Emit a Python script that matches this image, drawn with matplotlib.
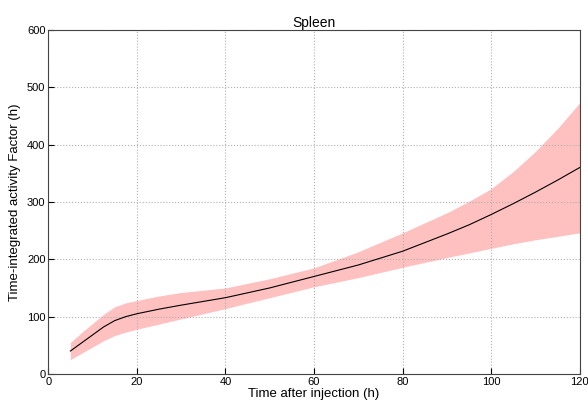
import numpy as np
import matplotlib.pyplot as plt

plt.rcParams['font.family'] = ['Liberation Sans', 'DejaVu Sans']

# Valores
t = [5, 7.5, 10, 12.5, 15, 17.5, 20, 25, 30, 40, 50, 60, 70, 80, 90, 95, 100, 105, 110, 115, 120]
media = [40, 54, 68, 82, 93, 100, 105, 113, 120, 133, 150, 170, 190, 214, 244, 260, 278, 297, 317, 338, 360]
superior = [55, 72, 88, 104, 117, 124, 128, 136, 142, 150, 166, 185, 213, 246, 281, 301, 323, 353, 388, 428, 473]
inferior = [25, 36, 47, 58, 67, 73, 78, 87, 96, 114, 133, 152, 168, 186, 203, 211, 219, 227, 234, 240, 246]

fig = plt.figure(figsize=(5.88, 4.03), dpi=100)
ax = fig.add_axes([0.082, 0.072, 0.904, 0.854])

ax.fill_between(t, inferior, superior, color='#ffc0c0', linewidth=0)
ax.plot(t, media, color='black', linewidth=0.8)

ax.set_xlim(0, 120)
ax.set_ylim(0, 600)
ax.set_xticks([0, 20, 40, 60, 80, 100, 120])
ax.set_yticks([0, 100, 200, 300, 400, 500, 600])
ax.tick_params(direction='in', labelsize=8, length=4, pad=2)
ax.grid(True, linestyle=':', color='#b0b0b0', linewidth=0.8)
for s in ax.spines.values():
    s.set_color('#444444')

ax.set_xlabel('Time after injection (h)', fontsize=9.5, labelpad=1)
ax.set_ylabel('Time-integrated activity Factor (h)', fontsize=9.5, labelpad=4)
ax.set_title('Spleen', fontsize=10, pad=2)

plt.savefig('out.png', dpi=100)
